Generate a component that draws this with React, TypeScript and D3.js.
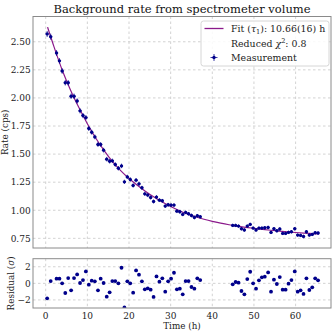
import React from "react";
import * as d3 from "d3";

// ---- data ----
const timesA = [0.35, 1.2, 2.6, 3.3, 3.95, 4.7, 5.4, 6.1, 6.8, 7.55, 8.25, 8.95, 9.65, 10.35, 11.05, 11.8, 12.55, 13.2, 13.9, 14.65, 15.35, 16.0, 16.7, 17.45, 18.2, 18.9, 19.6, 20.3, 21.0, 21.7, 22.4, 23.1, 23.8, 24.5, 25.2, 25.9, 26.6, 27.3, 28.0, 28.7, 29.4, 30.1, 30.8, 31.5, 32.2, 32.9, 33.6, 34.3, 35.0, 35.7, 36.4, 37.1];
const ratesA = [2.57, 2.545, 2.4, 2.33, 2.24, 2.135, 2.135, 2.015, 2.015, 1.973, 1.885, 1.843, 1.825, 1.728, 1.695, 1.653, 1.586, 1.586, 1.535, 1.455, 1.436, 1.44, 1.407, 1.374, 1.395, 1.253, 1.297, 1.274, 1.221, 1.268, 1.235, 1.2, 1.146, 1.135, 1.114, 1.078, 1.117, 1.09, 1.084, 1.037, 1.049, 1.046, 1.046, 0.992, 0.987, 0.963, 0.981, 0.969, 0.954, 0.936, 0.951, 0.942];
const errA = [0.027, 0.027, 0.026, 0.025, 0.025, 0.024, 0.024, 0.024, 0.024, 0.023, 0.023, 0.023, 0.023, 0.022, 0.022, 0.021, 0.021, 0.021, 0.021, 0.02, 0.02, 0.02, 0.02, 0.02, 0.02, 0.019, 0.019, 0.019, 0.018, 0.019, 0.019, 0.018, 0.018, 0.018, 0.018, 0.017, 0.018, 0.017, 0.017, 0.017, 0.017, 0.017, 0.017, 0.017, 0.017, 0.016, 0.016, 0.016, 0.016, 0.016, 0.016, 0.016];
const residA = [-1.8, 0.28, 0.56, 0.56, 0.0, -1.16, 0.64, -0.84, 0.64, 1.08, 0.04, 0.4, 1.44, -0.16, 0.32, 0.24, -0.84, 0.56, 0.04, -1.6, -1.08, 0.28, 0.28, 0.0, 1.88, -2.9, 0.24, 0.0, -1.12, 1.56, 1.04, 0.24, -0.72, -0.6, -0.76, -1.64, 0.84, 0.2, 0.6, -1.0, 0.24, 0.56, 1.28, -0.72, -0.64, -1.32, 0.28, 0.28, -0.44, -0.64, 0.6, 0.4];

const timesB = [44.9, 45.6, 46.3, 47.0, 47.7, 48.4, 49.1, 49.8, 50.5, 51.2, 51.9, 52.6, 53.4, 54.1, 54.8, 55.5, 56.2, 56.9, 57.6, 58.3, 59.0, 59.8, 60.5, 61.2, 61.9, 62.6, 63.3, 64.0, 64.7, 65.4];
const ratesB = [0.865, 0.865, 0.859, 0.836, 0.824, 0.859, 0.874, 0.841, 0.824, 0.841, 0.841, 0.844, 0.847, 0.803, 0.836, 0.818, 0.833, 0.794, 0.794, 0.803, 0.809, 0.836, 0.779, 0.776, 0.767, 0.809, 0.779, 0.785, 0.8, 0.797];
const errB = [0.015, 0.015, 0.015, 0.015, 0.015, 0.015, 0.015, 0.015, 0.015, 0.015, 0.015, 0.015, 0.015, 0.015, 0.015, 0.015, 0.015, 0.015, 0.015, 0.015, 0.015, 0.015, 0.015, 0.015, 0.015, 0.015, 0.015, 0.015, 0.015, 0.015];
const residB = [-0.12, 0.16, 0.08, -0.92, -1.32, 0.52, 1.4, 0.0, -0.64, 0.36, 0.72, 0.8, 1.32, -1.0, 0.44, -0.08, 0.76, -0.76, -0.76, -0.04, 0.4, 1.44, -1.0, -0.84, -1.28, 0.6, -0.8, -0.48, 0.6, 0.36];

const binHalfWidth = 0.36;

const fitTimes = [0.45, 2, 4, 6, 8, 10, 12, 14, 16, 18, 20, 22, 24, 26, 28, 30, 32, 34, 36, 38, 40, 42, 44, 46, 48, 50, 52, 54, 56, 58, 60, 62, 64, 65.6];
const fitRates = [2.63, 2.455, 2.245, 2.067, 1.912, 1.77, 1.643, 1.533, 1.435, 1.353, 1.283, 1.223, 1.168, 1.118, 1.073, 1.033, 0.998, 0.968, 0.942, 0.92, 0.901, 0.885, 0.871, 0.859, 0.848, 0.839, 0.83, 0.822, 0.815, 0.808, 0.802, 0.797, 0.793, 0.79];

const xTicks = [0, 10, 20, 30, 40, 50, 60];
const yTicks = [0.75, 1.0, 1.25, 1.5, 1.75, 2.0, 2.25, 2.5];
const rTicks = [-2, 0, 2];

const titleText = "Background rate from spectrometer volume";

const times = [...timesA, ...timesB];
const rates = [...ratesA, ...ratesB];
const errs = [...errA, ...errB];
const resids = [...residA, ...residB];

const FONT = "'DejaVu Serif', serif";
const BLUE = "#00008b";
const FIT = "#8b1a8b";
const GRID = "#c8c8c8";
const SPINE = "#8a8a8a";
const TXT = "#222";

export default function App() {
  const L = 33, R = 331;
  const mainTop = 16.5, mainBot = 248;
  const resTop = 258.7, resBot = 308;

  const x = d3.scaleLinear().domain([-3.05, 68.5]).range([L, R]);
  const y = d3.scaleLinear().domain([0.664, 2.725]).range([mainBot, mainTop]);
  const yr = d3.scaleLinear().domain([-2.97, 2.97]).range([resBot, resTop]);

  const fitLine = d3
    .line<number>()
    .x((_, i) => x(fitTimes[i]))
    .y((d) => y(d))
    .curve(d3.curveMonotoneX);

  const fmtY = d3.format(".2f");
  const fmtR = (v: number) => (v < 0 ? "\u2212" + Math.abs(v) : String(v));

  return (
    <svg
      width={332}
      height={332}
      style={{ position: "absolute", left: 0, top: 0, background: "white" }}
      fontFamily={FONT}
    >
      <defs>
        <clipPath id="clipMain">
          <rect x={L} y={mainTop} width={R - L} height={mainBot - mainTop} />
        </clipPath>
        <clipPath id="clipRes">
          <rect x={L} y={resTop} width={R - L} height={resBot - resTop} />
        </clipPath>
      </defs>
      <rect x={0} y={0} width={332} height={332} fill="white" />

      {/* title */}
      <text x={(L + R) / 2} y={13.3} textAnchor="middle" fontSize={11.5} fill="#111">
        {titleText}
      </text>

      {/* grid */}
      <g stroke={GRID} strokeWidth={0.8} strokeDasharray="2.5,2.5">
        {xTicks.map((t) => (
          <line key={"gx" + t} x1={x(t)} x2={x(t)} y1={mainTop} y2={mainBot} />
        ))}
        {yTicks.map((v) => (
          <line key={"gy" + v} x1={L} x2={R} y1={y(v)} y2={y(v)} />
        ))}
        {xTicks.map((t) => (
          <line key={"rgx" + t} x1={x(t)} x2={x(t)} y1={resTop} y2={resBot} />
        ))}
        {rTicks.map((v) => (
          <line key={"rgy" + v} x1={L} x2={R} y1={yr(v)} y2={yr(v)} />
        ))}
      </g>

      {/* main data */}
      <g clipPath="url(#clipMain)">
        <path d={fitLine(fitRates) || ""} fill="none" stroke={FIT} strokeWidth={1.2} />
        <g stroke={BLUE} strokeOpacity={0.75} strokeWidth={1}>
          {times.map((t, i) => (
            <g key={"e" + i}>
              <line x1={x(t)} x2={x(t)} y1={y(rates[i] - errs[i])} y2={y(rates[i] + errs[i])} />
              <line x1={x(t - binHalfWidth)} x2={x(t + binHalfWidth)} y1={y(rates[i])} y2={y(rates[i])} />
            </g>
          ))}
        </g>
        {times.map((t, i) => (
          <circle key={"p" + i} cx={x(t)} cy={y(rates[i])} r={1.7} fill={BLUE} />
        ))}
      </g>

      {/* residuals */}
      <g clipPath="url(#clipRes)">
        {times.map((t, i) => (
          <circle key={"r" + i} cx={x(t)} cy={yr(resids[i])} r={1.9} fill={BLUE} />
        ))}
      </g>

      {/* spines */}
      <rect x={L} y={mainTop} width={R - L} height={mainBot - mainTop} fill="none" stroke={SPINE} strokeWidth={1} />
      <rect x={L} y={resTop} width={R - L} height={resBot - resTop} fill="none" stroke={SPINE} strokeWidth={1} />

      {/* y tick labels */}
      <g fontSize={9} fill={TXT} textAnchor="end">
        {yTicks.map((v) => (
          <text key={"yl" + v} x={L - 2.3} y={y(v) + 3.3}>
            {fmtY(v)}
          </text>
        ))}
        {rTicks.map((v) => (
          <text key={"rl" + v} x={L - 2.3} y={yr(v) + 3.3}>
            {fmtR(v)}
          </text>
        ))}
      </g>

      {/* x tick labels */}
      <g fontSize={9} fill={TXT} textAnchor="middle">
        {xTicks.map((t) => (
          <text key={"xl" + t} x={x(t)} y={319.2}>
            {t}
          </text>
        ))}
      </g>

      {/* axis labels */}
      <text x={(L + R) / 2} y={328.6} textAnchor="middle" fontSize={8.8} fill={TXT}>
        Time (h)
      </text>
      <text
        transform={`translate(8,${(mainTop + mainBot) / 2}) rotate(-90)`}
        textAnchor="middle"
        fontSize={8.8}
        fill={TXT}
      >
        Rate (cps)
      </text>
      <text
        transform={`translate(14,${(resTop + resBot) / 2}) rotate(-90)`}
        textAnchor="middle"
        fontSize={8.8}
        fill={TXT}
      >
        Residual (<tspan fontStyle="italic">σ</tspan>)
      </text>

      {/* legend */}
      <g>
        <rect x={201} y={21} width={128} height={45} rx={2.5} fill="white" fillOpacity={0.85} stroke="#cccccc" strokeWidth={0.8} />
        <line x1={204.5} x2={223.5} y1={28.5} y2={28.5} stroke={FIT} strokeWidth={1.3} />
        <text x={231} y={32} fontSize={9.4} fill={TXT}>
          Fit (<tspan fontStyle="italic">τ</tspan>
          <tspan fontSize={6.6} dy={2}>1</tspan>
          <tspan dy={-2}>): 10.66(16) h</tspan>
        </text>
        <text x={231} y={46.5} fontSize={9.4} fill={TXT}>
          Reduced <tspan fontStyle="italic">χ</tspan>
          <tspan fontSize={6.6} dy={-3.8}>2</tspan>
          <tspan dy={3.8}>: 0.8</tspan>
        </text>
        <g stroke={BLUE} strokeOpacity={0.75} strokeWidth={1}>
          <line x1={210.5} x2={217.5} y1={57.5} y2={57.5} />
          <line x1={214} x2={214} y1={54} y2={61} />
        </g>
        <circle cx={214} cy={57.5} r={1.7} fill={BLUE} />
        <text x={231} y={61} fontSize={9.4} fill={TXT}>
          Measurement
        </text>
      </g>
    </svg>
  );
}
